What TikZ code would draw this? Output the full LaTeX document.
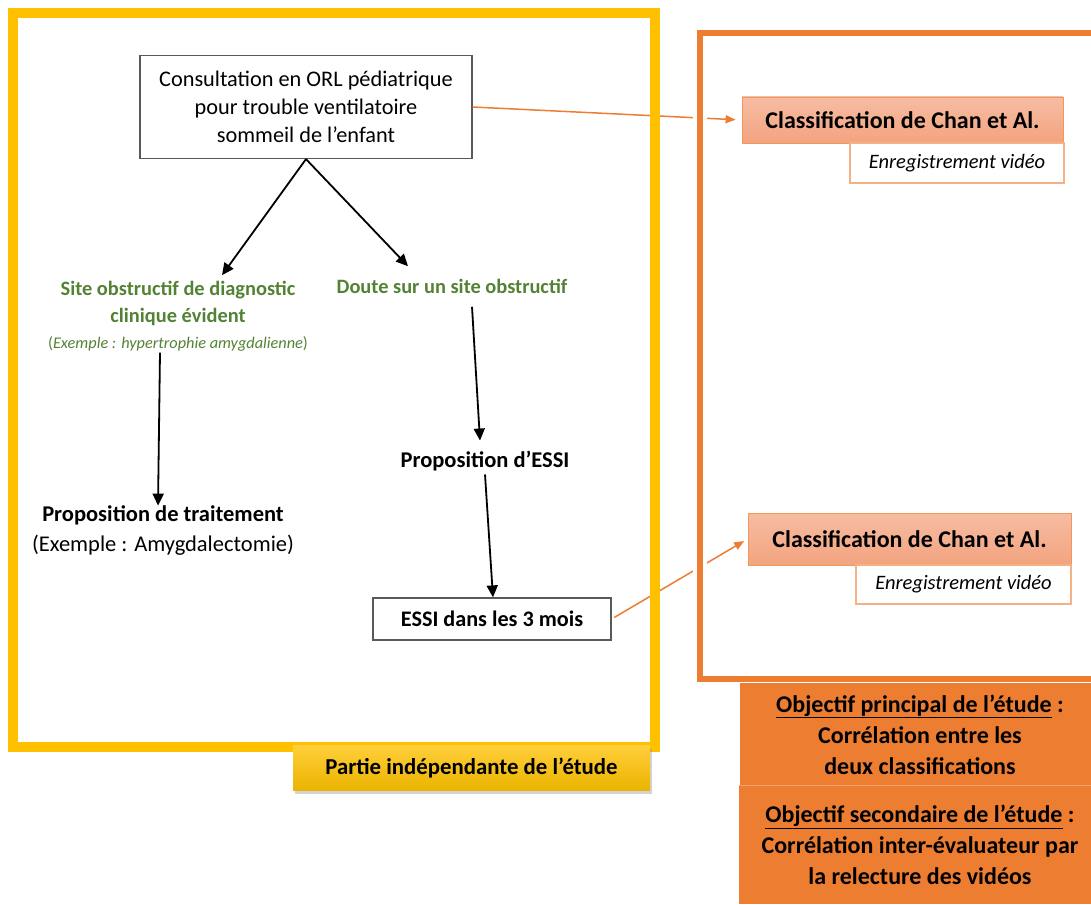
\documentclass[tikz,border=0pt]{standalone}
\usepackage{fontspec}
\setmainfont{Carlito}
\usetikzlibrary{arrows.meta,shadows}
\definecolor{ylw}{HTML}{FFC000}
\definecolor{org}{HTML}{ED7D31}
\definecolor{grn}{HTML}{548235}
\definecolor{salmtop}{HTML}{F6BDA3}
\definecolor{salmbot}{HTML}{F3A37F}
\definecolor{lblbot}{HTML}{EBB400}
\definecolor{lbltop}{HTML}{FFCF3A}
\tikzset{
  blk/.style={draw=black, line width=1.8pt, -{Triangle[length=12pt,width=11pt]}},
  orarrow/.style={draw=org, line width=1.5pt, -{Triangle[length=10pt,width=8pt]}},
  plainbox/.style={draw=black!65, line width=1.2pt, fill=white, align=center},
  classbox/.style={draw=org!80, line width=0.8pt, top color=salmtop, bottom color=salmbot,
    font=\fontsize{24}{28}\selectfont\bfseries, inner sep=0pt},
  enrbox/.style={draw=org!60, line width=1.2pt, fill=white,
    font=\fontsize{20.5}{24}\selectfont\itshape, inner sep=0pt},
  greentxt/.style={text=grn, font=\fontsize{20.4}{27}\selectfont\bfseries, align=center},
  boldtxt/.style={font=\fontsize{22.5}{30}\selectfont\bfseries, align=center},
  objbox/.style={fill=org, inner sep=0pt, align=center, font=\fontsize{24}{31}\selectfont\bfseries},
}
\begin{document}
\begin{tikzpicture}[x=1pt,y=-1pt]
\useasboundingbox (0,0) rectangle (1091,904);
% boxes that connectors cross frames to reach
\node[plainbox, minimum width=332pt, minimum height=103pt, inner sep=0pt,
  font=\fontsize{22.3}{28}\selectfont] (consult) at (306,107)
  {Consultation en ORL pédiatrique\\pour trouble ventilatoire\\sommeil de l’enfant};
\node[classbox, minimum width=321pt, minimum height=46pt] (class1) at (902.5,120) {Classification de Chan et Al.};
\node[enrbox, minimum width=214pt, minimum height=40pt] (enr1) at (957,163) {Enregistrement vidéo};
\node[classbox, minimum width=323pt, minimum height=52pt] (class2) at (909.5,539) {Classification de Chan et Al.};
\node[enrbox, minimum width=215pt, minimum height=39pt] (enr2) at (963.5,584.5) {Enregistrement vidéo};
\node[plainbox, minimum width=238pt, minimum height=42pt, inner sep=0pt,
  font=\fontsize{22.2}{26}\selectfont\bfseries] (essi) at (492,619) {ESSI dans les 3 mois};

\draw[orarrow, shorten >=6pt] (consult.east) -- (class1.west);
\draw[orarrow, shorten <=3pt, shorten >=4pt] (essi.east) -- (class2.west);

% frames
\draw[ylw, line width=10pt] (13,13) rectangle (655,747);
\draw[white, line width=14pt] (700,40) -- (700,679);
\draw[org, line width=6pt] (1100,33) -- (700,33) -- (700,679) -- (1100,679);

% left part
\node[greentxt] (site) at (178,303) {Site obstructif de diagnostic\\clinique évident};
\node[font=\fontsize{16.3}{19}\selectfont, text=grn, inner sep=1pt] (ex) at (178,344)
  {(\textit{Exemple : hypertrophie amygdalienne})};
\node[greentxt] (doute) at (452,286) {Doute sur un site obstructif};
\node[boldtxt] (trait) at (163,531) {Proposition de traitement\\\mdseries(Exemple : Amygdalectomie)};
\node[boldtxt] (pessi) at (485,461) {Proposition d’ESSI};

\draw[blk] (consult.south) -- ([xshift=44pt,yshift=2pt]site.north);
\draw[blk] (consult.south) -- ([xshift=-44pt,yshift=9pt]doute.north);
\draw[blk] ([xshift=-18pt]ex.south) -- ([xshift=-5pt,yshift=-3pt]trait.north);
\draw[blk] ([xshift=20pt,yshift=-10pt]doute.south) -- ([yshift=7pt,xshift=-5pt]pessi.north);
\draw[blk] (pessi.south) -- ([xshift=1pt]essi.north);

% label
\node[top color=lbltop, bottom color=lblbot, minimum width=357pt, minimum height=45pt,
  inner sep=0pt, font=\fontsize{22.8}{26}\selectfont\bfseries,
  drop shadow={shadow xshift=2pt, shadow yshift=-4pt, opacity=0.35}] (label) at (471.5,767.5)
  {Partie indépendante de l’étude};

% objectives
\node[objbox, minimum width=360pt, minimum height=103pt] (obj1) at (920,734.5)
  {\underline{Objectif principal de l’étude} :\\Corrélation entre les\\deux classifications};
\node[objbox, minimum width=362pt, minimum height=118pt] (obj2) at (920,845)
  {\underline{Objectif secondaire de l’étude} :\\Corrélation inter-évaluateur par\\la relecture des vidéos};
\draw[org!70!white, line width=1pt] (obj2.north west) -- (obj2.north east);
\end{tikzpicture}
\end{document}
